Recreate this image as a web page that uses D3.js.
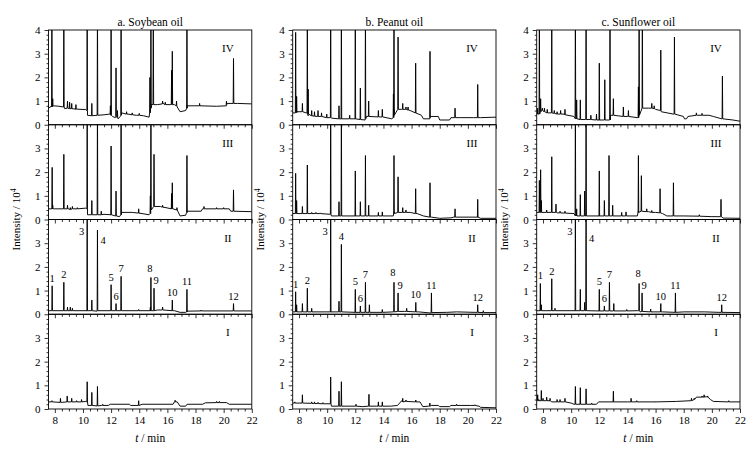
<!DOCTYPE html>
<html>
<head>
<meta charset="utf-8">
<script src="https://d3js.org/d3.v7.min.js"></script>
<style>
  body { margin: 0; background: #fff; }
  svg text { font-family: "Liberation Serif", "Times New Roman", serif; fill: #000; }
  .axis text { font-size: 11px; }
  .axis line { stroke: #000; stroke-width: 0.8; }
  .axis path { display: none; }
  .trace { fill: none; stroke: #000; stroke-width: 0.95; stroke-linejoin: round; }
  .frame { fill: none; stroke: #000; stroke-width: 0.9; }
</style>
</head>
<body>
<svg id="chart"></svg>
<script>
// titles / tick labels
var oilTitles = ["a. Soybean oil", "b. Peanut oil", "c. Sunflower oil"];
var levels = ["IV", "III", "II", "I"];
var xTicks = [8, 10, 12, 14, 16, 18, 20, 22];
var yTicksTop = [0, 1, 2, 3, 4];
var yTicks = [0, 1, 2, 3];
var peakNames = ["1", "2", "3", "4", "5", "6", "7", "8", "9", "10", "11", "12"];

// baseline points [t, intensity] and peaks [t, top, foot]
// ---- soybean
var soyIV_base = [[7.55,0.7],[7.75,0.78],[7.9,0.8],[8.3,0.78],[8.6,0.75],[8.7,0.68],[9.5,0.66],[10.2,0.64],[10.32,0.4],[10.6,0.38],[11.0,0.4],[11.5,0.42],[11.9,0.45],[12.1,0.35],[12.3,0.3],[12.5,0.25],[12.65,0.35],[12.75,0.5],[13.2,0.45],[13.8,0.4],[14.3,0.38],[14.7,0.32],[14.85,0.85],[15.3,0.85],[15.7,0.9],[16.2,0.85],[16.5,0.85],[16.7,0.75],[16.9,0.55],[17.3,0.6],[17.4,0.8],[18.3,0.8],[19.5,0.78],[20.2,0.8],[20.25,0.9],[21.0,0.9],[22,0.88]];
var soyIV_peaks = [[7.79,5,0.75],[7.85,1.1,0.78],[8.64,5,0.75],[8.9,1.0,0.7],[9.05,0.95,0.68],[9.2,0.9,0.68],[9.5,0.85,0.66],[10.3,5,0.6],[10.63,0.9,0.38],[11.03,5,0.4],[11.95,0.8,0.45],[12.0,5,0.4],[12.35,2.4,0.35],[12.45,0.6,0.3],[12.71,5,0.4],[13.1,0.55,0.45],[13.5,0.5,0.42],[14.0,0.48,0.4],[14.76,2.0,0.5],[14.83,5,0.7],[15.0,5,0.85],[15.66,1.0,0.88],[15.85,0.95,0.85],[16.3,2.3,0.85],[16.35,3.1,0.85],[16.65,1.0,0.8],[17.39,5,0.7],[18.29,0.9,0.8],[20.2,1.0,0.85],[20.7,2.8,0.9]];
var soyIII_base = [[7.55,0.45],[8.0,0.45],[9.0,0.45],[10.2,0.48],[10.32,0.2],[11.0,0.2],[11.5,0.22],[12.0,0.2],[12.3,0.15],[12.6,0.12],[12.75,0.3],[13.5,0.3],[14.2,0.25],[14.7,0.2],[14.8,0.55],[15.5,0.55],[15.9,0.5],[16.4,0.45],[16.7,0.4],[16.9,0.15],[17.3,0.18],[17.4,0.35],[18.4,0.35],[18.5,0.45],[20.4,0.45],[20.5,0.35],[22,0.33]];
var soyIII_peaks = [[7.81,2.2,0.45],[7.85,0.6,0.45],[8.64,2.75,0.45],[8.9,0.6,0.45],[9.1,0.5,0.42],[9.25,0.55,0.45],[9.6,0.5,0.45],[10.3,5,0.45],[10.63,0.8,0.2],[11.03,5,0.2],[11.3,0.35,0.2],[12.0,3.1,0.2],[12.35,1.2,0.15],[12.71,5,0.2],[13.96,0.45,0.27],[14.79,1.0,0.25],[14.83,5,0.4],[15.05,2.75,0.55],[15.66,0.6,0.52],[16.3,1.1,0.45],[16.35,1.55,0.45],[16.68,0.5,0.4],[17.39,2.7,0.3],[18.6,0.55,0.45],[19.5,0.5,0.45],[20.0,0.5,0.45],[20.7,1.25,0.35]];
var soyII_base = [[7.55,0.15],[10.3,0.15],[11.0,0.13],[14.8,0.15],[15.3,0.18],[15.6,0.18],[16.5,0.15],[16.9,0.08],[17.3,0.08],[17.4,0.13],[22,0.14]];
var soyII_peaks = [[7.81,1.2,0.15],[8.64,1.35,0.15],[8.9,0.3,0.15],[9.1,0.3,0.15],[9.25,0.25,0.15],[10.3,5,0.15],[10.63,0.6,0.15],[11.03,3.55,0.15],[12.0,1.25,0.15],[12.35,0.45,0.15],[12.71,1.6,0.15],[13.96,0.2,0.15],[14.79,0.3,0.15],[14.83,1.55,0.15],[15.05,1.1,0.15],[15.66,0.3,0.18],[16.35,0.6,0.15],[17.39,1.05,0.1],[18.4,0.18,0.14],[20.7,0.45,0.14]];
var soyI_base = [[7.55,0.3],[8.5,0.28],[9.5,0.3],[10.2,0.32],[10.35,0.15],[11.0,0.13],[11.3,0.15],[11.8,0.15],[11.95,0.2],[13.3,0.2],[13.4,0.15],[14.0,0.15],[14.2,0.2],[16.4,0.2],[16.5,0.3],[16.7,0.3],[16.9,0.12],[17.3,0.12],[17.4,0.2],[18.5,0.2],[18.7,0.26],[20.2,0.27],[20.4,0.2],[22,0.2]];
var soyI_peaks = [[7.8,0.35,0.3],[8.4,0.45,0.28],[8.88,0.55,0.3],[9.2,0.45,0.3],[9.55,0.35,0.3],[9.9,0.4,0.3],[10.3,1.15,0.3],[10.63,0.7,0.15],[11.03,0.95,0.13],[11.4,0.2,0.15],[13.96,0.35,0.15],[16.55,0.37,0.3],[19.5,0.32,0.27],[19.7,0.32,0.27]];

// ---- peanut
var peaIV_base = [[7.55,0.5],[7.7,0.5],[7.85,0.55],[8.5,0.5],[8.65,0.38],[9.5,0.35],[10.2,0.3],[10.3,0.28],[11.0,0.25],[12.0,0.25],[12.7,0.2],[12.8,0.35],[13.8,0.33],[14.6,0.25],[14.75,0.65],[15.3,0.65],[15.9,0.6],[16.3,0.5],[16.7,0.4],[16.84,0.25],[17.3,0.25],[17.35,0.35],[17.9,0.35],[18.0,0.2],[18.7,0.2],[18.8,0.3],[19.5,0.3],[20.4,0.3],[20.9,0.3],[22,0.32]];
var peaIV_peaks = [[7.76,3.9,0.5],[7.83,1.2,0.52],[8.24,0.9,0.55],[8.59,5,0.5],[8.65,1.5,0.45],[8.9,0.6,0.38],[9.1,0.55,0.36],[9.35,0.6,0.35],[9.6,0.5,0.35],[9.97,0.45,0.3],[10.25,5,0.3],[10.84,0.8,0.25],[11.01,5,0.25],[11.6,0.4,0.25],[12.0,5,0.25],[12.36,1.55,0.22],[12.72,5,0.25],[12.95,1.0,0.35],[13.64,0.6,0.33],[13.92,0.65,0.33],[14.71,1.3,0.3],[14.75,5,0.4],[15.04,3.7,0.65],[15.37,0.9,0.65],[15.6,0.75,0.65],[15.75,0.75,0.62],[16.29,2.6,0.5],[17.31,3.1,0.3],[19.09,0.7,0.3],[20.7,1.7,0.3]];
var peaIII_base = [[7.55,0.25],[8.5,0.25],[10.2,0.22],[10.3,0.15],[12.0,0.15],[14.7,0.15],[14.75,0.3],[15.9,0.3],[16.4,0.25],[16.84,0.15],[17.4,0.1],[18.0,0.05],[18.8,0.07],[19.0,0.1],[20.7,0.1],[20.9,0.05],[22,0.05]];
var peaIII_peaks = [[7.76,1.95,0.25],[7.83,0.8,0.25],[8.24,0.55,0.25],[8.59,2.3,0.25],[8.9,0.3,0.25],[9.2,0.3,0.25],[9.5,0.28,0.25],[10.25,5,0.22],[10.84,0.75,0.15],[11.01,5,0.15],[12.0,2.05,0.15],[12.36,0.75,0.15],[12.72,2.7,0.15],[12.95,0.6,0.15],[13.64,0.3,0.15],[13.92,0.32,0.15],[14.75,2.7,0.25],[15.04,1.8,0.3],[15.37,0.5,0.3],[15.6,0.4,0.3],[16.29,1.3,0.25],[17.31,1.55,0.1],[19.09,0.45,0.1],[20.7,0.85,0.1]];
var peaII_base = [[7.55,0.1],[10.25,0.1],[12.0,0.08],[14.7,0.1],[15.5,0.12],[16.5,0.1],[17.4,0.05],[18.5,0.08],[19.2,0.1],[20.5,0.08],[22,0.07]];
var peaII_peaks = [[7.76,0.95,0.1],[7.83,0.4,0.1],[8.24,0.45,0.1],[8.59,1.1,0.1],[8.9,0.25,0.1],[10.25,5,0.1],[10.84,0.55,0.1],[11.01,2.95,0.1],[12.0,1.05,0.08],[12.36,0.35,0.08],[12.72,1.35,0.08],[13.0,0.4,0.08],[13.92,0.2,0.08],[14.75,1.35,0.1],[15.04,0.9,0.12],[15.65,0.25,0.12],[16.3,0.5,0.1],[17.41,0.9,0.07],[20.7,0.4,0.08],[21.1,0.15,0.07]];
var peaI_base = [[7.55,0.25],[9.0,0.23],[10.2,0.22],[10.3,0.12],[12.0,0.12],[12.5,0.1],[13.5,0.12],[14.5,0.12],[15.0,0.15],[15.3,0.35],[16.6,0.3],[16.8,0.1],[17.2,0.12],[17.4,0.15],[17.9,0.15],[18.0,0.1],[18.7,0.1],[18.8,0.15],[20.2,0.15],[20.8,0.12],[20.9,0.07],[22,0.05]];
var peaI_peaks = [[7.7,0.3,0.25],[8.24,0.6,0.25],[8.9,0.3,0.24],[9.1,0.3,0.23],[9.35,0.28,0.23],[9.7,0.27,0.22],[10.25,1.35,0.22],[10.84,0.75,0.12],[11.01,1.15,0.12],[12.05,0.2,0.12],[12.97,0.62,0.12],[13.64,0.3,0.12],[13.92,0.3,0.12],[15.37,0.45,0.3],[15.6,0.38,0.32],[16.3,0.38,0.3],[17.3,0.25,0.12],[19.2,0.2,0.15],[20.5,0.18,0.15]];

// ---- sunflower
var sunIV_base = [[7.55,0.45],[7.7,0.45],[7.9,0.6],[8.5,0.5],[9.5,0.45],[10.2,0.35],[10.3,0.25],[11.0,0.22],[12.0,0.2],[12.7,0.2],[12.8,0.4],[14.0,0.35],[14.7,0.3],[14.8,0.7],[15.5,0.7],[16.0,0.65],[16.4,0.55],[17.27,0.45],[17.98,0.35],[18.05,0.25],[18.2,0.25],[18.3,0.35],[19.0,0.4],[19.8,0.4],[20.1,0.35],[20.7,0.25],[21.5,0.2],[22,0.15]];
var sunIV_peaks = [[7.62,0.7,0.45],[7.74,5,0.45],[7.83,1.1,0.55],[7.95,0.7,0.6],[8.1,0.7,0.55],[8.3,0.65,0.5],[8.62,5,0.5],[8.8,0.6,0.48],[9.0,0.55,0.45],[9.25,0.6,0.45],[9.56,0.65,0.42],[10.3,5,0.35],[10.39,1.05,0.25],[10.65,1.05,0.22],[11.06,5,0.22],[11.4,0.4,0.22],[11.8,0.45,0.2],[12.0,2.6,0.2],[12.39,1.9,0.2],[12.76,5,0.2],[13.0,1.1,0.4],[13.71,0.75,0.35],[14.07,0.6,0.35],[14.78,1.6,0.3],[14.83,5,0.4],[15.06,5,0.7],[15.73,0.9,0.7],[15.9,0.8,0.68],[16.37,3.15,0.6],[17.34,3.7,0.45],[18.9,0.5,0.4],[19.3,0.48,0.4],[20.75,2.05,0.25]];
var sunIII_base = [[7.55,0.3],[9.0,0.28],[10.2,0.25],[10.3,0.15],[12.0,0.15],[14.7,0.15],[14.78,0.35],[15.5,0.33],[16.0,0.3],[16.5,0.25],[16.8,0.15],[18.0,0.15],[20.0,0.12],[20.6,0.12],[20.8,0.06],[22,0.05]];
var sunIII_peaks = [[7.74,1.65,0.3],[7.83,2.1,0.3],[7.88,0.8,0.3],[8.26,0.4,0.3],[8.62,2.65,0.3],[8.92,0.65,0.3],[9.21,0.35,0.28],[9.56,0.35,0.27],[10.3,5,0.25],[10.39,0.45,0.15],[10.65,1.05,0.15],[10.96,1.2,0.15],[11.06,5,0.15],[12.0,2.05,0.15],[12.36,0.8,0.15],[12.69,2.7,0.15],[12.95,0.6,0.15],[13.59,0.3,0.15],[13.9,0.32,0.15],[14.78,2.7,0.3],[14.99,1.85,0.35],[15.37,0.45,0.33],[15.73,0.38,0.3],[16.32,1.3,0.28],[17.27,1.55,0.15],[19.11,0.2,0.14],[20.65,0.85,0.12]];
var sunII_base = [[7.55,0.15],[10.3,0.15],[12.0,0.14],[14.7,0.15],[14.9,0.1],[16.5,0.1],[17.4,0.08],[18.0,0.1],[19.5,0.1],[20.5,0.08],[22,0.07]];
var sunII_peaks = [[7.81,1.3,0.15],[7.88,0.4,0.15],[8.62,1.5,0.15],[8.85,0.25,0.15],[10.3,5,0.15],[10.65,1.05,0.15],[10.96,0.5,0.15],[11.06,5,0.15],[12.0,1.05,0.14],[12.36,0.35,0.14],[12.72,1.35,0.14],[13.03,0.45,0.14],[13.95,0.2,0.14],[14.83,1.3,0.15],[15.04,0.9,0.12],[15.65,0.22,0.1],[16.37,0.45,0.1],[17.41,0.9,0.08],[20.7,0.4,0.08]];
var sunI_base = [[7.55,0.35],[8.5,0.35],[8.6,0.3],[9.5,0.3],[10.0,0.25],[10.2,0.2],[11.8,0.2],[11.95,0.3],[13.0,0.3],[14.0,0.3],[16.0,0.3],[17.5,0.32],[18.5,0.35],[18.9,0.5],[19.6,0.52],[19.9,0.4],[20.1,0.32],[22,0.3]];
var sunI_peaks = [[7.62,0.6,0.35],[7.7,0.4,0.35],[7.88,0.78,0.35],[8.0,0.45,0.35],[8.26,0.5,0.35],[8.5,0.45,0.35],[9.0,0.4,0.3],[9.21,0.4,0.3],[9.56,0.45,0.3],[10.3,0.95,0.2],[10.65,0.9,0.2],[11.06,0.85,0.2],[11.46,0.25,0.2],[13.0,0.75,0.3],[14.26,0.45,0.3],[14.66,0.35,0.3],[16.01,0.3,0.3],[18.55,0.45,0.35],[18.75,0.45,0.4],[19.3,0.55,0.5],[19.45,0.6,0.5],[19.7,0.55,0.5],[21.2,0.35,0.3]];

// retention times of the numbered peaks (labelled in panel II)
var soyLabelT = [7.81, 8.64, 10.3, 11.03, 12.0, 12.35, 12.71, 14.83, 15.05, 16.35, 17.39, 20.7];
var peaLabelT = [7.76, 8.59, 10.25, 11.01, 12.0, 12.36, 12.72, 14.75, 15.04, 16.3, 17.41, 20.7];
var sunLabelT = [7.81, 8.62, 10.3, 11.06, 12.0, 12.36, 12.72, 14.83, 15.04, 16.37, 17.41, 20.7];

var traces = [
  [[soyIV_base, soyIV_peaks], [soyIII_base, soyIII_peaks], [soyII_base, soyII_peaks], [soyI_base, soyI_peaks]],
  [[peaIV_base, peaIV_peaks], [peaIII_base, peaIII_peaks], [peaII_base, peaII_peaks], [peaI_base, peaI_peaks]],
  [[sunIV_base, sunIV_peaks], [sunIII_base, sunIII_peaks], [sunII_base, sunII_peaks], [sunI_base, sunI_peaks]]
];
var labelTimes = [soyLabelT, peaLabelT, sunLabelT];

// labels drawn beside the line instead of above it: [side, height]
var sideLabels = [
  {"3": ["left", 3.35], "4": ["right", 2.95]},
  {"3": ["left", 3.35]},
  {"3": ["left", 3.35], "4": ["right", 3.05]}
];
// small pixel nudges for crowded labels: [dx, dy]
var nudge = {"8": [-1, -2], "9": [2, 0]};

var w = 756, h = 451;
var colLeft = [48.5, 292.7, 536.7];
var plotW = 203.3;
var top0 = 30, panelH = 94.75;
var spike = 0.022; // half width of a peak in minutes
var serif = "'Liberation Serif', 'Times New Roman', serif";

var svg = d3.select("#chart").attr("width", w).attr("height", h);

function buildPoints(base, peaks) {
  var items = [];
  base.forEach(function(d) { items.push({t: d[0], pts: [[d[0], d[1]]]}); });
  peaks.forEach(function(p) {
    items.push({t: p[0], pts: [[p[0] - spike, p[2]], [p[0], p[1]], [p[0] + spike, p[2]]]});
  });
  items.sort(function(a, b) { return a.t - b.t; });
  var out = [];
  items.forEach(function(it) { out = out.concat(it.pts); });
  return out;
}

traces.forEach(function(col, c) {
  var left = colLeft[c];
  var x = d3.scaleLinear().domain([7.55, 22]).range([left, left + plotW]);

  svg.append("text")
    .attr("x", left + plotW / 2)
    .attr("y", 26)
    .attr("text-anchor", "middle")
    .style("font-size", "11.5px")
    .text(oilTitles[c]);

  col.forEach(function(tr, r) {
    var top = top0 + r * panelH;
    var y = d3.scaleLinear().domain([0, 4]).range([top + panelH, top]);
    var clipId = "clip" + c + "_" + r;

    svg.append("clipPath").attr("id", clipId)
      .append("rect")
      .attr("x", left).attr("y", top)
      .attr("width", plotW).attr("height", panelH);

    // minor ticks
    var xMinor = d3.range(8, 22.01, 0.5).filter(function(v) { return v % 2 !== 0; });
    svg.append("g")
      .attr("class", "axis")
      .attr("transform", "translate(0," + (top + panelH) + ")")
      .call(d3.axisBottom(x).tickValues(xMinor).tickSize(2.5).tickFormat(""));
    var yMinor = d3.range(0, 4.01, 0.2).filter(function(v) { return Math.abs(v - Math.round(v)) > 0.01; });
    svg.append("g")
      .attr("class", "axis")
      .attr("transform", "translate(" + left + ",0)")
      .call(d3.axisLeft(y).tickValues(yMinor).tickSize(2).tickFormat(""));

    // major ticks
    var xAxis = d3.axisBottom(x).tickValues(xTicks).tickSize(4).tickPadding(3).tickFormat(d3.format("d"));
    if (r < 3) xAxis.tickFormat("");
    svg.append("g")
      .attr("class", "axis")
      .attr("transform", "translate(0," + (top + panelH) + ")")
      .call(xAxis)
      .attr("font-family", serif);

    svg.append("g")
      .attr("class", "axis")
      .attr("transform", "translate(" + left + ",0)")
      .call(d3.axisLeft(y).tickValues(r === 0 ? yTicksTop : yTicks)
        .tickSize(4).tickPadding(4).tickFormat(d3.format("d")))
      .attr("font-family", serif);

    var line = d3.line()
      .x(function(d) { return x(d[0]); })
      .y(function(d) { return y(d[1]); });

    svg.append("path")
      .datum(buildPoints(tr[0], tr[1]))
      .attr("class", "trace")
      .attr("clip-path", "url(#" + clipId + ")")
      .attr("d", line);

    svg.append("rect")
      .attr("class", "frame")
      .attr("x", left).attr("y", top)
      .attr("width", plotW).attr("height", panelH);

    // roman numeral
    svg.append("text")
      .attr("x", left + plotW - 24)
      .attr("y", top + 22)
      .attr("text-anchor", "middle")
      .style("font-size", "11px")
      .text(levels[r]);

    // numbered peaks in panel II
    if (r === 2) {
      labelTimes[c].forEach(function(t, i) {
        var name = peakNames[i];
        var pk = tr[1].find(function(p) { return p[0] === t; });
        var side = sideLabels[c][name];
        var nd = nudge[name] || [0, 0];
        var lbl = svg.append("text").style("font-size", "10.5px").text(name);
        if (side) {
          lbl.attr("x", x(t) + (side[0] === "left" ? -3 : 3))
            .attr("y", y(side[1]))
            .attr("text-anchor", side[0] === "left" ? "end" : "start");
        } else {
          lbl.attr("x", x(t) + nd[0])
            .attr("y", y(pk[1]) - 4 + nd[1])
            .attr("text-anchor", "middle");
        }
      });
    }
  });

  // y-axis title
  var yt = svg.append("text")
    .attr("transform", "translate(" + (left - 29) + "," + (top0 + 2 * panelH) + ") rotate(-90)")
    .attr("text-anchor", "middle")
    .style("font-size", "11px");
  yt.append("tspan").text("Intensity / 10");
  yt.append("tspan").attr("dy", -4).style("font-size", "7.5px").text("4");

  // x-axis title
  var xt = svg.append("text")
    .attr("x", left + plotW / 2)
    .attr("y", 442)
    .attr("text-anchor", "middle")
    .style("font-size", "11.5px");
  xt.append("tspan").style("font-style", "italic").text("t");
  xt.append("tspan").text(" / min");
});
</script>
</body>
</html>
